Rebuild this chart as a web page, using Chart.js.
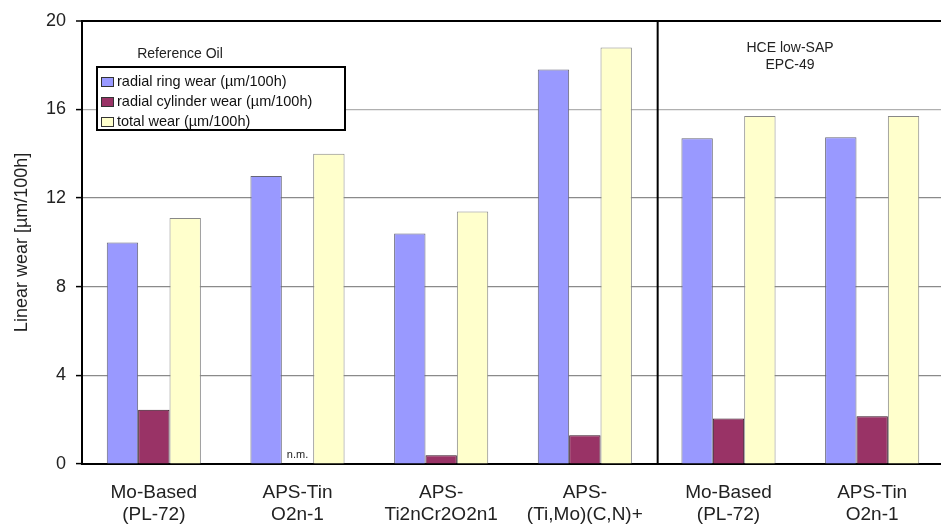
<!DOCTYPE html>
<html>
<head>
<meta charset="utf-8">
<script src="https://cdn.jsdelivr.net/npm/chart.js@4.4.1/dist/chart.umd.min.js"></script>
<style>
  html, body { margin: 0; padding: 0; background: #fff; overflow: hidden; }
  .chart-box { width: 950px; height: 526px; }
</style>
</head>
<body>
<div class="chart-box"><canvas id="wearChart"></canvas></div>
<script>
// categories (two-line tick labels)
const categories = [
  ['Mo-Based', '(PL-72)'],
  ['APS-Tin', 'O2n-1'],
  ['APS-', 'Ti2nCr2O2n1'],
  ['APS-', '(Ti,Mo)(C,N)+'],
  ['Mo-Based', '(PL-72)'],
  ['APS-Tin', 'O2n-1']
];
const seriesNames = ['radial ring wear (\u00b5m/100h)', 'radial cylinder wear (\u00b5m/100h)', 'total wear (\u00b5m/100h)'];
const ringWear = [10.0, 13.0, 10.4, 17.8, 14.7, 14.75];
const cylinderWear = [2.45, null, 0.4, 1.3, 2.05, 2.15]; // null = n.m.
const totalWear = [11.1, 14.0, 11.4, 18.8, 15.7, 15.7];
const yTicks = [0, 4, 8, 12, 16, 20];

const FONT = '"Liberation Sans", Arial, sans-serif';

// legend box, group notes, divider line
const extrasPlugin = {
  id: 'extras',
  afterDatasetsDraw(chart) {
    const ctx = chart.ctx;
    const xs = chart.scales.x;
    const area = chart.chartArea;
    ctx.save();

    // divider between oil groups
    const xd = xs.getPixelForValue(3.5) + 1;
    ctx.strokeStyle = '#000';
    ctx.lineWidth = 2;
    ctx.beginPath();
    ctx.moveTo(xd, area.top);
    ctx.lineTo(xd, area.bottom);
    ctx.stroke();

    // n.m. note
    const el = chart.getDatasetMeta(1).data[1];
    ctx.fillStyle = '#222';
    ctx.font = '11px ' + FONT;
    ctx.textAlign = 'center';
    ctx.textBaseline = 'middle';
    ctx.fillText('n.m.', el.x, 455);

    // group headings
    ctx.font = '14px ' + FONT;
    ctx.fillText('Reference Oil', 180, 54);
    ctx.fillText('HCE low-SAP', 790, 48);
    ctx.fillText('EPC-49', 790, 65);

    // legend
    ctx.fillStyle = '#fff';
    ctx.fillRect(97, 67, 248, 63);
    ctx.strokeStyle = '#000';
    ctx.lineWidth = 2;
    ctx.strokeRect(97, 67, 248, 63);
    ctx.font = '14.5px ' + FONT;
    ctx.textAlign = 'left';
    chart.data.datasets.forEach((ds, i) => {
      const y = 82 + i * 20;
      ctx.fillStyle = ds.backgroundColor;
      ctx.fillRect(101, y - 5, 12, 9);
      ctx.strokeStyle = '#333';
      ctx.lineWidth = 1;
      ctx.strokeRect(101.5, y - 4.5, 12, 9);
      ctx.fillStyle = '#111';
      ctx.fillText(ds.label, 117, y);
    });
    ctx.restore();
  }
};

const data = {
  labels: categories,
  datasets: [
    { label: seriesNames[0], data: ringWear, backgroundColor: '#9999ff', borderColor: '#666677', borderWidth: 1 },
    { label: seriesNames[1], data: cylinderWear, backgroundColor: '#993366', borderColor: '#331122', borderWidth: 1 },
    { label: seriesNames[2], data: totalWear, backgroundColor: '#ffffcc', borderColor: '#888888', borderWidth: 1 }
  ]
};

const config = {
  type: 'bar',
  data: data,
  options: {
    responsive: true,
    maintainAspectRatio: false,
    animation: false,
    layout: { padding: { top: 15, right: 6, left: 0, bottom: 0 } },
    datasets: { bar: { categoryPercentage: 0.655, barPercentage: 1.0 } },
    plugins: { legend: { display: false }, tooltip: { enabled: false } },
    scales: {
      x: {
        grid: { display: false },
        border: { color: '#000', width: 2 },
        ticks: { color: '#222', font: { family: FONT, size: 19, lineHeight: 1.2 }, padding: 9, maxRotation: 0, autoSkip: false },
        afterFit: s => { s.height = 62; }
      },
      y: {
        min: 0,
        max: 20,
        afterBuildTicks: s => { s.ticks = yTicks.map(v => ({ value: v })); },
        border: { color: '#000', width: 2 },
        grid: {
          color: c => c.tick.value === 0 ? 'rgba(0,0,0,0)' : c.tick.value === 20 ? '#000' : c.tick.value === 16 ? '#b0b0b0' : '#8a8a8a',
          lineWidth: c => c.tick.value === 20 ? 2 : 1.2,
          tickColor: '#000',
          tickLength: 6,
          tickWidth: 1.5
        },
        ticks: { color: '#222', font: { family: FONT, size: 18 }, padding: 10 },
        title: {
          display: true,
          text: 'Linear wear [\u00b5m/100h]',
          color: '#222',
          font: { family: FONT, size: 18 },
          padding: { top: 11, bottom: 0 }
        },
        afterFit: s => { s.width = 82; }
      }
    }
  },
  plugins: [extrasPlugin]
};

const wearChart = new Chart(document.getElementById('wearChart'), config);
</script>
</body>
</html>
